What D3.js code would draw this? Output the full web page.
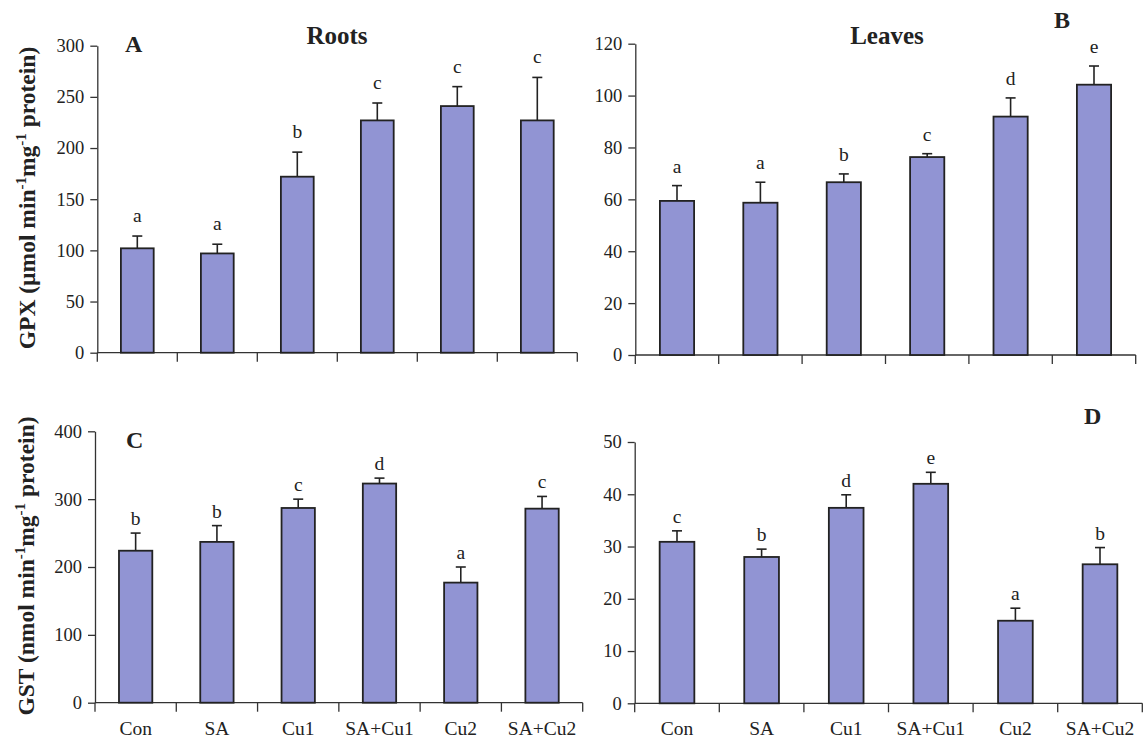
<!DOCTYPE html>
<html>
<head>
<meta charset="utf-8">
<script src="https://cdn.jsdelivr.net/npm/d3@7"></script>
<style>
  body { margin: 0; background: #fff; }
  svg text { font-family: "Liberation Serif", "Times New Roman", serif; fill: #222; }
</style>
</head>
<body>
<svg id="chart" width="1145" height="745"></svg>
<script>
// Treatments
const categories = ["Con", "SA", "Cu1", "SA+Cu1", "Cu2", "SA+Cu2"];

// GPX, roots (µmol min-1 mg-1 protein)
const gpxRootMean  = [102, 97, 172, 227, 241, 227];
const gpxRootSE    = [12, 9, 24, 17, 19, 42];
const gpxRootGroup = ["a", "a", "b", "c", "c", "c"];
const gpxRootTicks = [0, 50, 100, 150, 200, 250, 300];

// GPX, leaves
const gpxLeafMean  = [59.4, 58.7, 66.6, 76.3, 91.9, 104.2];
const gpxLeafSE    = [5.9, 7.9, 3.2, 1.3, 7.2, 7.2];
const gpxLeafGroup = ["a", "a", "b", "c", "d", "e"];
const gpxLeafTicks = [0, 20, 40, 60, 80, 100, 120];

// GST, roots (nmol min-1 mg-1 protein)
const gstRootMean  = [224, 237, 287, 323, 177, 286];
const gstRootSE    = [26, 24, 13, 8, 23, 18];
const gstRootGroup = ["b", "b", "c", "d", "a", "c"];
const gstRootTicks = [0, 100, 200, 300, 400];

// GST, leaves
const gstLeafMean  = [30.9, 28.0, 37.4, 42.0, 15.8, 26.6];
const gstLeafSE    = [2.1, 1.5, 2.5, 2.2, 2.4, 3.2];
const gstLeafGroup = ["c", "b", "d", "e", "a", "b"];
const gstLeafTicks = [0, 10, 20, 30, 40, 50];

const svg = d3.select("#chart");
const BAR_FILL = "#9194d3";
const INK = "#222";

const panels = [
  { mean: gpxRootMean, se: gpxRootSE, group: gpxRootGroup, ticks: gpxRootTicks,
    left: 97.3, right: 577.3, bottom: 352.7, top: 45.7, gap: 14, labels: false,
    letter: "A", letterX: 125, letterY: 52 },
  { mean: gpxLeafMean, se: gpxLeafSE, group: gpxLeafGroup, ticks: gpxLeafTicks,
    left: 635.3, right: 1135.7, bottom: 355, top: 43.7, gap: 13, labels: false,
    letter: "B", letterX: 1054, letterY: 28 },
  { mean: gstRootMean, se: gstRootSE, group: gstRootGroup, ticks: gstRootTicks,
    left: 95, right: 582.7, bottom: 702.7, top: 431.3, gap: 8, labels: true,
    letter: "C", letterX: 126, letterY: 448 },
  { mean: gstLeafMean, se: gstLeafSE, group: gstLeafGroup, ticks: gstLeafTicks,
    left: 634.7, right: 1142.3, bottom: 703.3, top: 442, gap: 8, labels: true,
    letter: "D", letterX: 1084, letterY: 424 }
];

panels.forEach(p => {
  const g = svg.append("g");
  const x = d3.scaleBand().domain(categories).range([p.left, p.right]).padding(0);
  const y = d3.scaleLinear()
    .domain([0, p.ticks[p.ticks.length - 1]])
    .range([p.bottom, p.top]);
  const barW = x.bandwidth() * 0.41;
  const rows = categories.map((c, i) => ({ c, m: p.mean[i], s: p.se[i], grp: p.group[i] }));

  // y axis
  const ya = g.append("g")
    .attr("transform", `translate(${p.left},0)`)
    .call(d3.axisLeft(y).tickValues(p.ticks).tickSize(7).tickPadding(6).tickSizeOuter(0));
  ya.select(".domain").attr("stroke", "#333").attr("stroke-width", 1.3);
  ya.selectAll(".tick line").attr("stroke", "#333").attr("stroke-width", 1.3);
  ya.selectAll(".tick text")
    .attr("font-size", 18.5).attr("font-family", "Liberation Serif").attr("fill", INK);

  // x axis baseline with ticks on category boundaries
  g.append("line")
    .attr("x1", p.left).attr("x2", p.right)
    .attr("y1", y(0)).attr("y2", y(0))
    .attr("stroke", "#333").attr("stroke-width", 1.3);
  const bounds = categories.map(c => x(c)).concat([p.right]);
  g.selectAll(".xtick").data(bounds).join("line")
    .attr("x1", d => d).attr("x2", d => d)
    .attr("y1", y(0)).attr("y2", y(0) + 9)
    .attr("stroke", "#333").attr("stroke-width", 1.3);

  if (p.labels) {
    g.selectAll(".xlab").data(categories).join("text")
      .attr("x", d => x(d) + x.bandwidth() / 2)
      .attr("y", y(0) + 32)
      .attr("text-anchor", "middle")
      .attr("font-size", 19.5)
      .text(d => d);
  }

  // error bars (mean + SE)
  const err = g.append("g");
  rows.forEach(r => {
    const cx = x(r.c) + x.bandwidth() / 2;
    err.append("line")
      .attr("x1", cx).attr("x2", cx)
      .attr("y1", y(r.m)).attr("y2", y(r.m + r.s))
      .attr("stroke", INK).attr("stroke-width", 1.6);
    err.append("line")
      .attr("x1", cx - 5).attr("x2", cx + 5)
      .attr("y1", y(r.m + r.s)).attr("y2", y(r.m + r.s))
      .attr("stroke", INK).attr("stroke-width", 1.6);
  });

  // bars
  g.selectAll(".bar").data(rows).join("rect")
    .attr("x", d => x(d.c) + (x.bandwidth() - barW) / 2)
    .attr("width", barW)
    .attr("y", d => y(d.m))
    .attr("height", d => y(0) - y(d.m))
    .attr("fill", BAR_FILL)
    .attr("stroke", INK)
    .attr("stroke-width", 1.8);

  // significance letters
  g.selectAll(".grp").data(rows).join("text")
    .attr("x", d => x(d.c) + x.bandwidth() / 2)
    .attr("y", d => y(d.m + d.s) - p.gap)
    .attr("text-anchor", "middle")
    .attr("font-size", 19.5)
    .text(d => d.grp);

  // panel letter
  g.append("text")
    .attr("x", p.letterX).attr("y", p.letterY)
    .attr("font-size", 24).attr("font-weight", "bold")
    .text(p.letter);
});

// organ headings
svg.append("text").attr("x", 337).attr("y", 44).attr("text-anchor", "middle")
  .attr("font-size", 25).attr("font-weight", "bold").text("Roots");
svg.append("text").attr("x", 887).attr("y", 44).attr("text-anchor", "middle")
  .attr("font-size", 25).attr("font-weight", "bold").text("Leaves");

// y-axis titles with superscript units
function unitTitle(cx, cy, lead) {
  const t = svg.append("text")
    .attr("transform", `translate(${cx},${cy}) rotate(-90)`)
    .attr("text-anchor", "middle")
    .attr("font-size", 23.5).attr("font-weight", "bold");
  t.append("tspan").text(lead + " min");
  t.append("tspan").attr("dy", -9).attr("font-size", 15).text("-1");
  t.append("tspan").attr("dy", 9).text("mg");
  t.append("tspan").attr("dy", -9).attr("font-size", 15).text("-1");
  t.append("tspan").attr("dy", 9).text(" protein)");
}
unitTitle(35, 198, "GPX (µmol");
unitTitle(34, 566, "GST (nmol");
</script>
</body>
</html>
